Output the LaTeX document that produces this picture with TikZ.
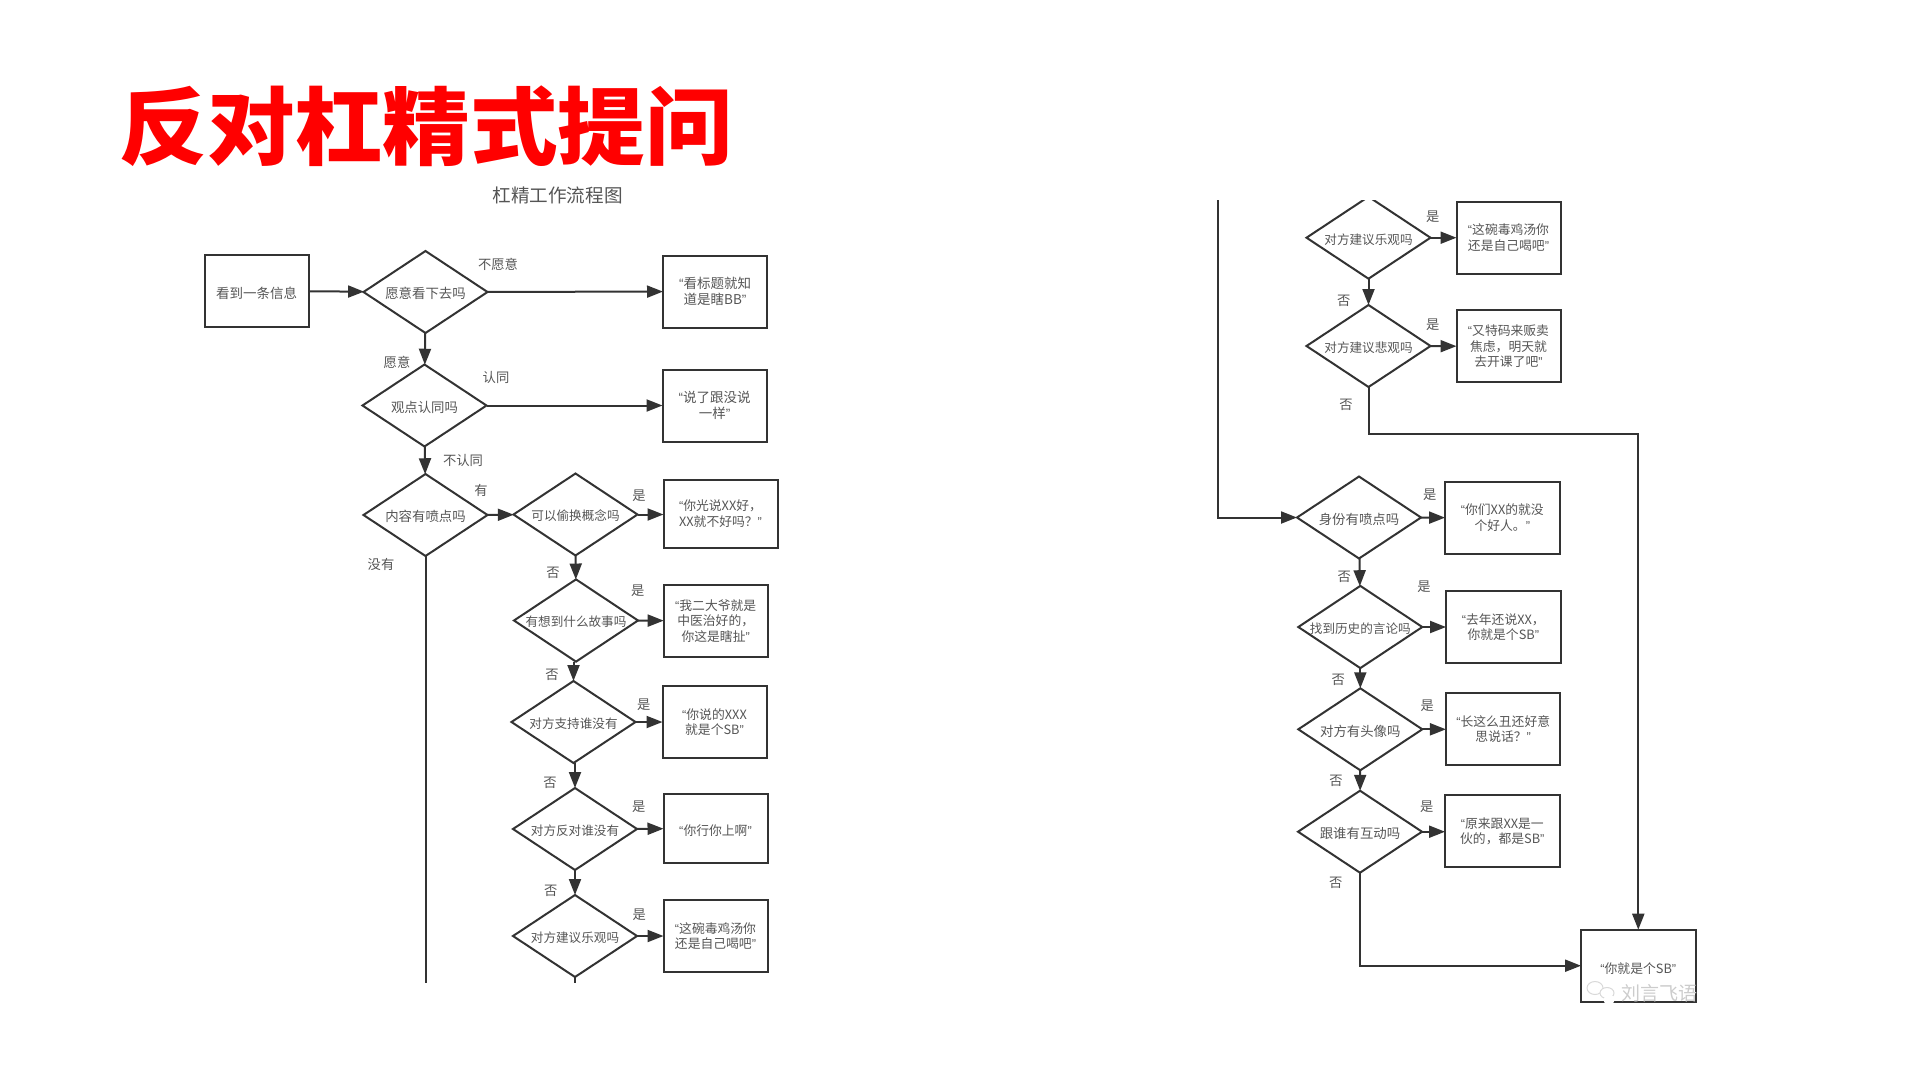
\documentclass[tikz,border=0pt]{standalone}
\usepackage{fontspec}
\setmainfont{Noto Sans CJK SC}
\newfontfamily\headfont[FakeStretch=1.035]{Noto Sans CJK SC Black}
\newfontfamily\quotefont{Liberation Sans}
\newcommand{\qopen}{{\quotefont “}}
\newcommand{\qshut}{{\quotefont ”}}
\usetikzlibrary{shapes.geometric,arrows.meta}
\definecolor{inkline}{HTML}{333333}
\definecolor{inktext}{HTML}{555555}
\tikzset{
    askbox/.style={diamond, draw=inkline, line width=2pt, aspect=1.5, inner sep=0pt, outer sep=0pt,
        minimum width=124pt, minimum height=82pt, text=inktext, font=\fontsize{12.6}{15.5}\selectfont,
        execute at begin node={\rule{0pt}{14pt}}},
    askwide/.style={askbox, font=\fontsize{13.4}{15.5}\selectfont, execute at begin node={\rule{0pt}{14.8pt}}},
    saybox/.style={rectangle, draw=inkline, line width=2pt, align=center, inner sep=0pt, outer sep=0pt,
        minimum width=104pt, minimum height=72pt, text=inktext, font=\fontsize{12.8}{15.5}\selectfont,
        execute at begin node={\rule{0pt}{16pt}}},
    saywide/.style={saybox, font=\fontsize{13.5}{15.5}\selectfont, execute at begin node={\rule{0pt}{16pt}}},
    tag/.style={text=inktext, inner sep=0pt, font=\fontsize{13.3}{15}\selectfont,
        execute at begin node={\rule{0pt}{13.7pt}}},
    flow/.style={draw=inkline, line width=2pt},
    flowto/.style={flow, -{Triangle[length=16pt,width=12pt]}}
}
\begin{document}
\begin{tikzpicture}[x=1pt, y=-1pt]
    \useasboundingbox (0,0) rectangle (1920,1080);

    % Headings
    \node[text=red, inner sep=0pt, font=\headfont\fontsize{84.7}{85}\selectfont] (head) at (426.5,126) {反对杠精式提问};
    \node[text=inktext, inner sep=0pt, font=\fontsize{18.6}{20}\selectfont] (subhead) at (557.5,195.5) {杠精工作流程图};

    % Left column, first steps
    \node[saywide] (start) at (256.5,291) {看到一条信息};
    \node[askwide] (want) at (425.5,292) {愿意看下去吗};
    \node[saywide] (sayA) at (715,291.5) {\qopen 看标题就知\\道是瞎BB\qshut};
    \node[askwide] (agree) at (424.5,405.5) {观点认同吗};
    \node[saywide] (sayB) at (714.5,405.5) {\qopen 说了跟没说\\一样\qshut};
    \node[askwide] (flaw) at (425.5,515) {内容有喷点吗};

    % Left column, questions
    \node[askbox] (swap) at (575.5,514.5) {可以偷换概念吗};
    \node[saybox, minimum width=114pt, minimum height=68pt] (sayC) at (720.5,513.5) {\qopen 你光说XX好，\\XX就不好吗？\qshut};
    \node[askbox] (story) at (576,620.5) {有想到什么故事吗};
    \node[saybox] (sayD) at (715.7,620.7) {\qopen 我二大爷就是\\中医治好的，\\你这是瞎扯\qshut};
    \node[askbox] (back) at (573.5,722) {对方支持谁没有};
    \node[saybox] (sayE) at (714.5,722) {\qopen 你说的XXX\\就是个SB\qshut};
    \node[askbox] (oppose) at (575,829) {对方反对谁没有};
    \node[saybox, minimum height=68.5pt] (sayF) at (715.5,828.5) {\qopen 你行你上啊\qshut};
    \node[askbox] (hopeL) at (575,936) {对方建议乐观吗};
    \node[saybox] (sayG) at (715.5,936) {\qopen 这碗毒鸡汤你\\还是自己喝吧\qshut};

    % Right column, top (cut by the page edge)
    \begin{scope}
        \clip (1290,200) rectangle (1450,290);
        \node[askbox] (hopeR) at (1368.5,237.7) {对方建议乐观吗};
    \end{scope}
    \node[saybox] (sayH) at (1508.5,237.7) {\qopen 这碗毒鸡汤你\\还是自己喝吧\qshut};
    \node[askbox] (gloom) at (1368.5,346) {对方建议悲观吗};
    \node[saybox] (sayI) at (1508.5,346.3) {\qopen 又特码来贩卖\\焦虑，明天就\\去开课了吧\qshut};

    % Right column, person questions
    \node[askwide] (who) at (1359,517.5) {身份有喷点吗};
    \node[saybox, minimum width=114.5pt] (sayJ) at (1502.3,517.7) {\qopen 你们XX的就没\\个好人。\qshut};
    \node[askbox] (past) at (1360.3,627) {找到历史的言论吗};
    \node[saybox, minimum width=114.5pt] (sayK) at (1503.3,627) {\qopen 去年还说XX，\\你就是个SB\qshut};
    \node[askwide] (face) at (1360.3,729.3) {对方有头像吗};
    \node[saybox, minimum width=114.5pt] (sayL) at (1503.2,729.3) {\qopen 长这么丑还好意\\思说话？\qshut};
    \node[askwide] (mate) at (1360,831.7) {跟谁有互动吗};
    \node[saybox, minimum width=114.5pt] (sayM) at (1502.3,831.3) {\qopen 原来跟XX是一\\伙的，都是SB\qshut};
    \node[saybox, minimum width=114.5pt] (final) at (1638.3,965.7) {\qopen 你就是个SB\qshut};

    % Free ends and bends
    \coordinate (cutL) at (425.5,982.7);
    \coordinate (cutM) at (575,982.7);
    \coordinate (cutR) at (1218.3,200);
    \coordinate (bend) at (1368.5,434.3);

    % Connectors, left column
    \draw[flowto] (start) -- (want);
    \draw[flowto] (want) -- (sayA);
    \draw[flowto] (want) -- (agree);
    \draw[flowto] (agree) -- (sayB);
    \draw[flowto] (agree) -- (flaw);
    \draw[flowto] (flaw) -- (swap);
    \draw[flowto] (swap) -- (sayC.west |- swap);
    \draw[flowto] (swap) -- (story);
    \draw[flowto] (story) -- (sayD);
    \draw[flowto] (back.north |- story.south) -- (back.north);
    \draw[flowto] (back) -- (sayE);
    \draw[flowto] (oppose.north |- back.south) -- (oppose.north);
    \draw[flowto] (oppose) -- (sayF);
    \draw[flowto] (oppose) -- (hopeL);
    \draw[flowto] (hopeL) -- (sayG);
    \draw[flow] (flaw.south) -- (cutL);
    \draw[flow] (hopeL.south) -- (cutM);

    % Connectors, right column
    \draw[flowto] (hopeR) -- (sayH);
    \draw[flowto] (hopeR) -- (gloom);
    \draw[flowto] (gloom) -- (sayI);
    \draw[flowto] (gloom.south) -- (bend) -| (final.north);
    \draw[flowto] (cutR) |- (who.west);
    \draw[flowto] (who) -- (sayJ);
    \draw[flowto] (who) -- (past);
    \draw[flowto] (past) -- (sayK);
    \draw[flowto] (past) -- (face);
    \draw[flowto] (face) -- (sayL);
    \draw[flowto] (face) -- (mate);
    \draw[flowto] (mate) -- (sayM.west |- mate);
    \draw[flowto] (mate.south) |- (final.west);

    % Labels, left column
    \node[tag] (tagA) at (498,263) {不愿意};
    \node[tag] (tagB) at (397,361) {愿意};
    \node[tag] (tagC) at (496,376) {认同};
    \node[tag] (tagD) at (463,459) {不认同};
    \node[tag] (tagE) at (481,489) {有};
    \node[tag] (tagF) at (381,563) {没有};
    \node[tag] (yesA) at (639,494) {是};
    \node[tag] (noA) at (553,571) {否};
    \node[tag] (yesB) at (637.7,588.7) {是};
    \node[tag] (noB) at (552,673) {否};
    \node[tag] (yesC) at (643.7,702.7) {是};
    \node[tag] (noC) at (550,781) {否};
    \node[tag] (yesD) at (638.7,804.7) {是};
    \node[tag] (noD) at (550.7,889.3) {否};
    \node[tag] (yesE) at (639.3,913.3) {是};

    % Labels, right column
    \node[tag] (yesF) at (1432.7,214.7) {是};
    \node[tag] (noF) at (1343.7,299) {否};
    \node[tag] (yesG) at (1432.7,323.3) {是};
    \node[tag] (noG) at (1346,402.7) {否};
    \node[tag] (yesH) at (1429.7,493.3) {是};
    \node[tag] (noH) at (1344.3,575) {否};
    \node[tag] (yesI) at (1424,585.3) {是};
    \node[tag] (noI) at (1338.3,678) {否};
    \node[tag] (yesJ) at (1427.3,703.7) {是};
    \node[tag] (noJ) at (1336,779) {否};
    \node[tag] (yesK) at (1426.7,805.3) {是};
    \node[tag] (noK) at (1335.7,881) {否};

    % Watermark over the last box
    \draw[gray!30, fill=white, line width=1pt] (1595,988) ellipse (8pt and 6.5pt);
    \draw[gray!30, fill=white, line width=1pt] (1607,993) ellipse (7pt and 5.5pt);
    \fill[white] (1609,1000) circle (5.5pt);
    \node[text=gray!40, inner sep=0pt, font=\fontsize{19}{21}\selectfont] (mark) at (1659,993) {刘言飞语};
\end{tikzpicture}
\end{document}
